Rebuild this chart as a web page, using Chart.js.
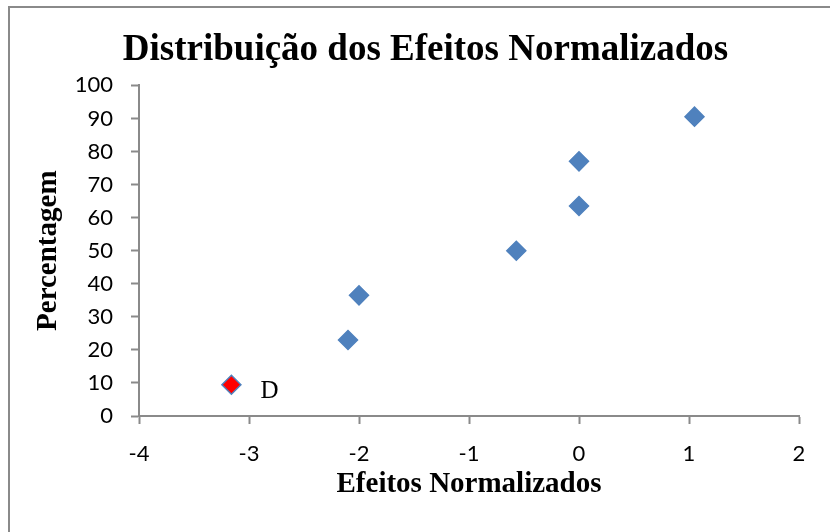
<!DOCTYPE html>
<html>
<head>
<meta charset="utf-8">
<script src="https://cdn.jsdelivr.net/npm/chart.js@4.4.1/dist/chart.umd.min.js"></script>
<style>
html,body{margin:0;padding:0;background:#ffffff;}
#wrap{width:830px;height:532px;position:relative;overflow:hidden;}
canvas{display:block;}
</style>
</head>
<body>
<div id="wrap"><canvas id="c" width="830" height="532"></canvas></div>
<script>
// ---- data ----
const effects = [-3.16, -2.10, -2.00, -0.57, 0.00, 0.00, 1.05];
const percentages = [9.46, 22.97, 36.49, 50.00, 63.51, 77.03, 90.54];
const pointLabels = ['D', '', '', '', '', '', ''];
const pointFills = ['#FF0000', '#4F81BD', '#4F81BD', '#4F81BD', '#4F81BD', '#4F81BD', '#4F81BD'];
const xTicks = [-4, -3, -2, -1, 0, 1, 2];
const yTicks = [0, 10, 20, 30, 40, 50, 60, 70, 80, 90, 100];
const chartTitle = 'Distribuição dos Efeitos Normalizados';
const xTitle = 'Efeitos Normalizados';
const yTitle = 'Percentagem';

const points = effects.map((x, i) => ({ x: x, y: percentages[i] }));

const AXIS_GRAY = '#8A8A8A';
const SERIF = '"Liberation Serif", "Times New Roman", serif';

const frame = {
  id: 'frame',
  beforeDraw(chart) {
    const ctx = chart.ctx;
    ctx.save();
    ctx.fillStyle = '#ffffff';
    ctx.fillRect(0, 0, chart.width, chart.height);
    ctx.strokeStyle = AXIS_GRAY;
    ctx.lineWidth = 2;
    ctx.strokeRect(9, 7, 1000, 1000);
    ctx.restore();
  }
};

const pointText = {
  id: 'pointText',
  afterDatasetsDraw(chart) {
    const ctx = chart.ctx;
    const meta = chart.getDatasetMeta(0);
    ctx.save();
    ctx.font = '25px ' + SERIF;
    ctx.fillStyle = '#000000';
    ctx.textAlign = 'left';
    ctx.textBaseline = 'alphabetic';
    meta.data.forEach((el, i) => {
      if (pointLabels[i]) ctx.fillText(pointLabels[i], el.x + 29, el.y + 13);
    });
    ctx.restore();
  }
};

new Chart(document.getElementById('c'), {
  type: 'scatter',
  data: {
    datasets: [{
      label: 'Efeitos',
      data: points,
      pointStyle: 'rectRot',
      pointRadius: 9.5,
      pointHoverRadius: 9.5,
      pointBackgroundColor: pointFills,
      pointBorderColor: '#4F81BD',
      pointBorderWidth: 1.5,
      showLine: false
    }]
  },
  options: {
    responsive: false,
    devicePixelRatio: 1,
    animation: false,
    events: [],
    layout: { padding: { left: 21, right: 0, top: 0, bottom: 0 } },
    plugins: {
      legend: { display: false },
      tooltip: { enabled: false },
      title: {
        display: true,
        text: chartTitle,
        color: '#000000',
        font: { family: SERIF, size: 37, weight: 'bold' },
        padding: { top: 28, bottom: 13 }
      }
    },
    scales: {
      x: {
        type: 'linear',
        min: -4,
        max: 2,
        afterBuildTicks: s => { s.ticks = xTicks.map(v => ({ value: v })); },
        afterFit: s => { s.height = 116; s.paddingRight = 31; },
        border: { display: true, color: AXIS_GRAY, width: 2 },
        grid: { display: true, drawOnChartArea: false, drawTicks: true, tickLength: 8, tickColor: AXIS_GRAY, tickWidth: 2 },
        ticks: { color: '#000000', font: { family: 'Lato', size: 22 }, padding: 17, maxRotation: 0 },
        title: {
          display: true,
          text: xTitle,
          color: '#000000',
          font: { family: SERIF, size: 29, weight: 'bold' },
          padding: { top: 0, bottom: 30 }
        }
      },
      y: {
        type: 'linear',
        min: 0,
        max: 100,
        afterBuildTicks: s => { s.ticks = yTicks.map(v => ({ value: v })); },
        afterFit: s => { s.width = 118; },
        border: { display: true, color: AXIS_GRAY, width: 2 },
        grid: { display: true, drawOnChartArea: false, drawTicks: true, tickLength: 8, tickColor: AXIS_GRAY, tickWidth: 2 },
        ticks: { color: '#000000', font: { family: 'Lato', size: 22 }, padding: 18 },
        title: {
          display: true,
          text: yTitle,
          color: '#000000',
          font: { family: SERIF, size: 29, weight: 'bold' },
          padding: { top: 10, bottom: 0 }
        }
      }
    }
  },
  plugins: [frame, pointText]
});
</script>
</body>
</html>
